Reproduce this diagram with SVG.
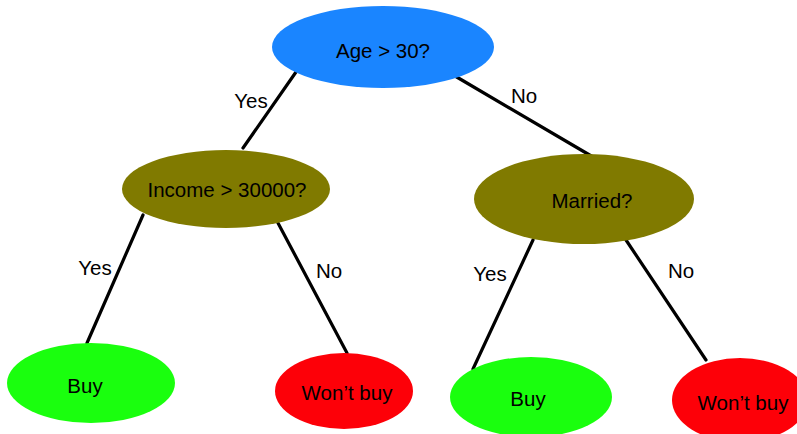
<svg xmlns="http://www.w3.org/2000/svg" width="797" height="434" viewBox="0 0 797 434">
<style>
text{font-family:"Liberation Sans",Arial,sans-serif;font-size:20.5px;fill:#000;text-anchor:middle;dominant-baseline:central}
.e{stroke:none}
.blue{fill:#1a85ff}
.olive{fill:#807a00}
.green{fill:#1aff0e}
.red{fill:#fd0008}
#edges line{stroke:#000;stroke-width:3.2;stroke-linecap:round}
</style>
<rect width="797" height="434" fill="#fff"/>
<g id="edges">
<line x1="296" y1="72" x2="243" y2="148"/>
<line x1="455" y1="76" x2="593" y2="157"/>
<line x1="143" y1="215" x2="87" y2="343"/>
<line x1="278" y1="223" x2="347" y2="353"/>
<line x1="533" y1="240" x2="473" y2="369"/>
<line x1="626" y1="240" x2="706" y2="360"/>
<text x="251" y="100">Yes</text>
<text x="524" y="95">No</text>
<text x="95" y="267">Yes</text>
<text x="329" y="270">No</text>
<text x="490" y="273">Yes</text>
<text x="681" y="270">No</text>
</g>
<g id="age"><ellipse class="e blue" cx="383" cy="47" rx="111" ry="41"/><text x="383" y="50">Age &gt; 30?</text></g>
<g id="income"><ellipse class="e olive" cx="226" cy="189" rx="104" ry="39"/><text x="227" y="189">Income &gt; 30000?</text></g>
<g id="married"><ellipse class="e olive" cx="584" cy="199" rx="110" ry="45"/><text x="592" y="200">Married?</text></g>
<g id="buy1"><ellipse class="e green" cx="91" cy="383" rx="84" ry="40"/><text x="85" y="385">Buy</text></g>
<g id="wontbuy1"><ellipse class="e red" cx="344" cy="391" rx="69" ry="38"/><text x="347" y="392">Won’t buy</text></g>
<g id="buy2"><ellipse class="e green" cx="531" cy="397" rx="81" ry="40"/><text x="528" y="398">Buy</text></g>
<g id="wontbuy2"><ellipse class="e red" cx="740" cy="400" rx="68" ry="42"/><text x="743" y="402">Won’t buy</text></g>
</svg>
